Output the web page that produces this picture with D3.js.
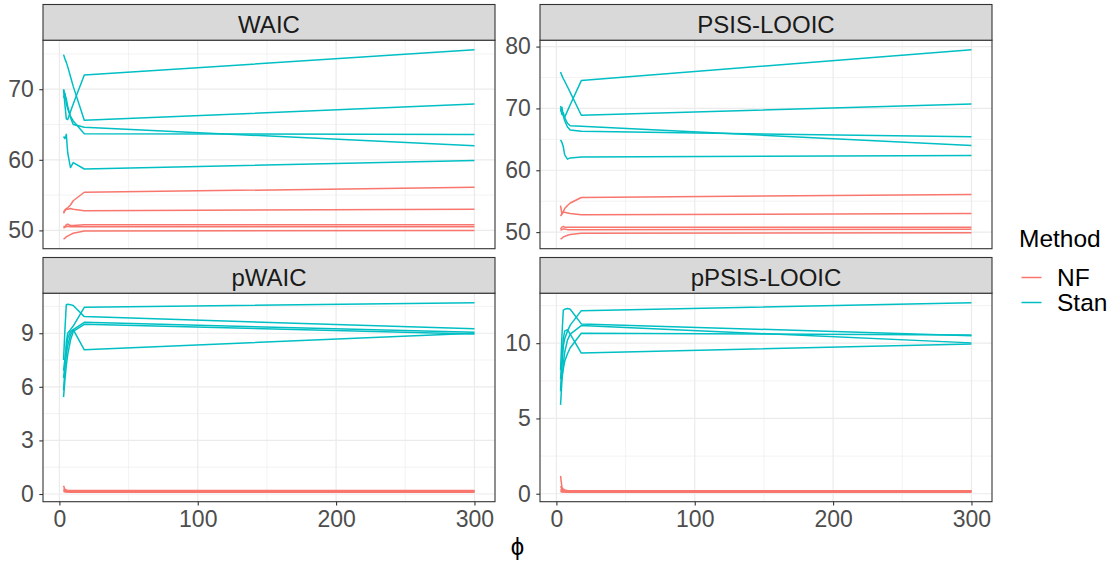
<!DOCTYPE html>
<html>
<head>
<meta charset="utf-8">
<script src="https://cdn.jsdelivr.net/npm/d3@7/dist/d3.min.js"></script>
<style>
  html, body { margin: 0; padding: 0; background: #ffffff; }
  svg { display: block; font-family: "Liberation Sans", Arial, sans-serif; }
</style>
</head>
<body>
<svg id="chart" width="1115" height="565"></svg>
<script>
// Information criteria across the phi grid, one line per replicate, for each fitting method.
const phi = [3, 4, 5, 6, 8, 10, 18, 300];
const methods = ["NF", "Stan"];
const methodColors = ["#F8766D", "#00BFC4"];
const metrics = ["WAIC", "PSIS-LOOIC", "pWAIC", "pPSIS-LOOIC"];

const waicNF = [
  [52.6, 52.9, 53.1, 53.2, 53.6, 54.2, 55.4, 56.1],
  [52.4, 52.8, 53.0, 53.0, 53.1, 53.0, 52.8, 53.0],
  [50.3, 50.5, 50.8, 50.9, 50.7, 50.7, 50.8, 50.8],
  [50.6, 50.5, 50.5, 50.6, 50.5, 50.5, 50.5, 50.5],
  [48.75, 48.9, 49.1, 49.2, 49.4, 49.6, 49.9, 50.0]
];
const waicStan = [
  [74.9, 74.3, 73.8, 73.2, 71.8, 70.4, 65.6, 67.9],
  [69.9, 67.8, 65.8, 65.7, 66.8, 67.9, 72.0, 75.6],
  [70.0, 69.2, 68.6, 67.6, 66.0, 65.0, 64.6, 62.0],
  [68.8, 69.4, 68.0, 67.2, 66.2, 65.5, 63.7, 63.6],
  [63.3, 63.0, 63.6, 61.0, 58.9, 59.6, 58.7, 59.9]
];
const looNF = [
  [54.3, 52.9, 53.3, 53.8, 54.3, 54.7, 55.6, 56.1],
  [52.6, 53.0, 53.2, 53.2, 53.1, 53.0, 52.8, 53.0],
  [50.5, 50.8, 50.9, 50.8, 50.8, 50.8, 50.8, 50.8],
  [50.3, 50.4, 50.5, 50.5, 50.4, 50.4, 50.4, 50.45],
  [48.85, 49.0, 49.2, 49.3, 49.5, 49.6, 49.8, 49.9]
];
const looStan = [
  [75.9, 75.3, 74.8, 74.4, 73.5, 72.6, 68.9, 70.7],
  [70.4, 69.5, 68.9, 68.6, 69.6, 70.6, 74.5, 79.5],
  [70.0, 69.0, 69.3, 68.5, 67.6, 67.2, 67.1, 64.0],
  [69.5, 70.2, 68.8, 68.0, 67.0, 66.5, 66.3, 65.4],
  [64.9, 64.5, 63.8, 62.5, 61.8, 62.0, 62.15, 62.4]
];
const pwaicNF = [
  [0.46, 0.25, 0.22, 0.21, 0.20, 0.20, 0.20, 0.20],
  [0.30, 0.20, 0.18, 0.18, 0.17, 0.17, 0.17, 0.17],
  [0.22, 0.17, 0.16, 0.15, 0.15, 0.15, 0.15, 0.15],
  [0.16, 0.14, 0.13, 0.12, 0.12, 0.12, 0.12, 0.12],
  [0.14, 0.12, 0.11, 0.11, 0.10, 0.10, 0.10, 0.10]
];
const pwaicStan = [
  [7.5, 9.2, 10.6, 10.62, 10.6, 10.55, 9.93, 9.25],
  [5.8, 7.0, 8.5, 9.0, 9.2, 9.4, 10.45, 10.71],
  [6.5, 7.2, 7.8, 8.3, 8.9, 9.2, 9.61, 9.05],
  [5.42, 6.4, 7.2, 7.8, 8.6, 9.1, 9.5, 8.95],
  [6.9, 7.6, 8.2, 8.7, 9.1, 9.2, 8.07, 9.0]
];
const ploNF = [
  [1.19, 0.42, 0.30, 0.25, 0.22, 0.20, 0.20, 0.20],
  [0.50, 0.30, 0.22, 0.20, 0.19, 0.18, 0.18, 0.18],
  [0.30, 0.20, 0.18, 0.17, 0.16, 0.16, 0.16, 0.16],
  [0.20, 0.16, 0.14, 0.13, 0.13, 0.13, 0.13, 0.13],
  [0.15, 0.12, 0.11, 0.11, 0.10, 0.10, 0.10, 0.10]
];
const ploStan = [
  [8.2, 10.5, 12.2, 12.25, 12.3, 12.25, 11.28, 10.5],
  [6.8, 8.5, 9.8, 10.3, 10.8, 11.2, 12.16, 12.69],
  [5.9, 7.5, 8.6, 9.4, 10.2, 10.6, 11.17, 10.02],
  [7.0, 7.8, 8.3, 8.8, 9.3, 9.7, 10.66, 10.55],
  [7.6, 9.0, 10.3, 10.8, 10.9, 10.6, 9.34, 9.95]
];

const xTicks = [0, 100, 200, 300];
const waicTicks = [50, 60, 70];
const looTicks = [50, 60, 70, 80];
const pwaicTicks = [0, 3, 6, 9];
const ploTicks = [0, 5, 10];

const panelSeries = [[waicNF, waicStan], [looNF, looStan], [pwaicNF, pwaicStan], [ploNF, ploStan]];
const panelTicks = [waicTicks, looTicks, pwaicTicks, ploTicks];

// ---- layout ----
const svg = d3.select("#chart");
const colX = [43, 540];
const panelW = 452;
const rowStrip = [4.5, 257.5];
const stripH = 35.7;
const panelH = 208.5;
const stripFont = 24;
const axisFont = 23;
const legendFont = 24.5;
const lineW = 1.5;

// ggplot-style continuous expansion: 5% on each side of the data range
function expanded(lo, hi) {
  const pad = (hi - lo) * 0.05;
  return [lo - pad, hi + pad];
}
function minorBreaks(major, domain) {
  const step = major[1] - major[0];
  const out = [];
  for (let v = major[0] - step / 2; v <= major[major.length - 1] + step; v += step) {
    if (v >= domain[0] && v <= domain[1]) out.push(v);
  }
  return out;
}

const xDomain = expanded(d3.min(phi), d3.max(phi));
const xMinor = minorBreaks(xTicks, xDomain);

metrics.forEach((name, i) => {
  const col = i % 2, row = Math.floor(i / 2);
  const left = colX[col];
  const stripTop = rowStrip[row];
  const top = stripTop + stripH;
  const series = panelSeries[i];
  const allVals = series.flat(2);
  const yDomain = expanded(d3.min(allVals), d3.max(allVals));

  const x = d3.scaleLinear().domain(xDomain).range([left, left + panelW]);
  const y = d3.scaleLinear().domain(yDomain).range([top + panelH, top]);
  const yMinor = minorBreaks(panelTicks[i], yDomain);

  const g = svg.append("g").attr("class", "panel");

  g.append("rect").attr("x", left).attr("y", top).attr("width", panelW).attr("height", panelH)
    .attr("fill", "#ffffff");

  // minor grid
  g.selectAll(".xminor").data(xMinor).join("line")
    .attr("x1", d => x(d)).attr("x2", d => x(d)).attr("y1", top).attr("y2", top + panelH)
    .attr("stroke", "#EBEBEB").attr("stroke-width", 0.6);
  g.selectAll(".yminor").data(yMinor).join("line")
    .attr("x1", left).attr("x2", left + panelW).attr("y1", d => y(d)).attr("y2", d => y(d))
    .attr("stroke", "#EBEBEB").attr("stroke-width", 0.6);
  // major grid
  g.selectAll(".xmajor").data(xTicks).join("line")
    .attr("x1", d => x(d)).attr("x2", d => x(d)).attr("y1", top).attr("y2", top + panelH)
    .attr("stroke", "#EBEBEB").attr("stroke-width", 1.2);
  g.selectAll(".ymajor").data(panelTicks[i]).join("line")
    .attr("x1", left).attr("x2", left + panelW).attr("y1", d => y(d)).attr("y2", d => y(d))
    .attr("stroke", "#EBEBEB").attr("stroke-width", 1.2);

  // lines: NF replicates first, Stan on top
  const line = d3.line().x((d, k) => x(phi[k])).y(d => y(d));
  methods.forEach((m, mi) => {
    g.selectAll(".s" + mi).data(series[mi]).join("path")
      .attr("d", d => line(d))
      .attr("fill", "none")
      .attr("stroke", methodColors[mi])
      .attr("stroke-width", lineW)
      .attr("stroke-linejoin", "round");
  });

  // panel border
  g.append("rect").attr("x", left).attr("y", top).attr("width", panelW).attr("height", panelH)
    .attr("fill", "none").attr("stroke", "#333333").attr("stroke-width", 1.1);

  // strip
  g.append("rect").attr("x", left).attr("y", stripTop).attr("width", panelW).attr("height", stripH)
    .attr("fill", "#D9D9D9").attr("stroke", "#333333").attr("stroke-width", 1.1);
  g.append("text").attr("x", left + panelW / 2).attr("y", stripTop + stripH / 2 + 10.2)
    .attr("text-anchor", "middle").attr("font-size", stripFont).attr("fill", "#1A1A1A")
    .text(name);

  // y axis
  const yAxis = d3.axisLeft(y).tickValues(panelTicks[i]).tickSize(3.7).tickPadding(5.5)
    .tickFormat(d3.format("d"));
  const ya = g.append("g").attr("transform", `translate(${left},0)`).call(yAxis);
  ya.select(".domain").remove();
  ya.selectAll(".tick line").attr("stroke", "#333333").attr("stroke-width", 1.1);
  ya.selectAll(".tick text").attr("font-size", axisFont).attr("fill", "#4D4D4D")
    .attr("font-family", "Liberation Sans, Arial, sans-serif");

  // x axis on the bottom row
  if (row === 1) {
    const xAxis = d3.axisBottom(x).tickValues(xTicks).tickSize(3.7).tickPadding(5)
      .tickFormat(d3.format("d"));
    const xa = g.append("g").attr("transform", `translate(0,${top + panelH})`).call(xAxis);
    xa.select(".domain").remove();
    xa.selectAll(".tick line").attr("stroke", "#333333").attr("stroke-width", 1.1);
    xa.selectAll(".tick text").attr("font-size", axisFont).attr("fill", "#4D4D4D")
      .attr("font-family", "Liberation Sans, Arial, sans-serif");
  }
});

// x axis title
svg.append("text").attr("x", (colX[0] + colX[1] + panelW) / 2).attr("y", 555)
  .attr("text-anchor", "middle").attr("font-size", axisFont + 1).attr("fill", "#000000")
  .text("\u03D5");

// legend
const legend = svg.append("g").attr("transform", "translate(1019,0)");
legend.append("text").attr("x", 0).attr("y", 247).attr("font-size", legendFont).attr("fill", "#000000")
  .text("Method");
const keyY = [277.5, 302.5];
methods.forEach((m, mi) => {
  legend.append("line").attr("x1", 2.5).attr("x2", 22.5).attr("y1", keyY[mi]).attr("y2", keyY[mi])
    .attr("stroke", methodColors[mi]).attr("stroke-width", lineW);
  legend.append("text").attr("x", 38).attr("y", keyY[mi]).attr("dy", "0.35em")
    .attr("font-size", legendFont).attr("fill", "#000000").text(m);
});
</script>
</body>
</html>
